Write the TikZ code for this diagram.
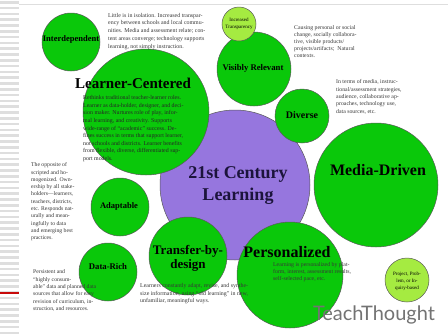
\documentclass[tikz,border=0pt]{standalone}
\usepackage{fontspec}
\setmainfont{Liberation Serif}
\newfontfamily\logofont{Lato}
\usetikzlibrary{positioning}

\definecolor{leafgreen}{RGB}{10,200,10}
\definecolor{limegreen}{RGB}{165,235,65}
\definecolor{hubpurple}{RGB}{150,118,222}
\definecolor{hubink}{RGB}{28,20,60}
\definecolor{notegray}{RGB}{55,55,55}
\definecolor{stripegray}{RGB}{222,222,222}
\definecolor{barred}{RGB}{200,10,10}

\begin{document}
\begin{tikzpicture}[x=1pt, y=-1pt,
    bubble/.style={circle, draw=black!65, line width=0.5pt, fill=leafgreen, inner sep=0pt},
    smallbubble/.style={bubble, fill=limegreen},
    hub/.style={bubble, fill=hubpurple},
    title/.style={align=center, inner sep=0pt},
    note/.style={align=left, anchor=north west, inner sep=0pt, text=notegray}]
    \useasboundingbox (0,0) rectangle (448,333);
    % left panel stripes
    \foreach \y in {1,6.8,...,333} {
        \fill[stripegray] (0,\y) rectangle (19,\y+2.6);
    }
    \draw[barred, line width=1.4pt] (0,293) -- (19,293);
    \draw[stripegray, line width=0.8pt] (19,4) -- (448,4);

    % bubbles
    \node[hub, minimum size=150pt] (hubc) at (235,185) {};
    \node[bubble, minimum size=58pt] (interdep) at (71,42) {};
    \node[bubble, minimum size=74pt] (visible) at (254,69) {};
    \node[smallbubble, minimum size=34pt] (transp) at (239,24) {};
    \node[bubble, minimum size=54pt] (diverse) at (302,116) {};
    \node[bubble, minimum size=126pt] (learner) at (146,112) {};
    \node[bubble, minimum size=124pt] (media) at (376,185) {};
    \node[bubble, minimum size=58pt] (adapt) at (120,207) {};
    \node[bubble, minimum size=58pt] (datarich) at (108,272) {};
    \node[bubble, minimum size=78pt] (transfer) at (188,256) {};
    \node[bubble, minimum size=106pt] (personal) at (290,275) {};
    \node[smallbubble, minimum size=44pt] (project) at (407,280) {};

    % titles
    \node[title, font=\bfseries\fontsize{8.5}{10}\selectfont] (interdeplbl) at (71,39) {Interdependent};
    \node[title, font=\bfseries\fontsize{15}{17}\selectfont] (learnerlbl) at (133,83) {Learner-Centered};
    \node[title, font=\bfseries\fontsize{8.7}{10}\selectfont] (visiblelbl) at (253,68) {Visibly Relevant};
    \node[title, font=\fontsize{5}{7}\selectfont] (transplbl) at (239,24) {Increased\\Transparency};
    \node[title, font=\bfseries\fontsize{10}{12}\selectfont] (diverselbl) at (302,115) {Diverse};
    \node[title, font=\bfseries\fontsize{18}{22}\selectfont, text=hubink] (hublbl) at (238,186) {21st Century\\Learning};
    \node[title, font=\bfseries\fontsize{16}{18}\selectfont] (medialbl) at (378,170) {Media-Driven};
    \node[title, font=\bfseries\fontsize{8.5}{10}\selectfont] (adaptlbl) at (119,206) {Adaptable};
    \node[title, font=\bfseries\fontsize{8.7}{10}\selectfont] (datarichlbl) at (108,267) {Data-Rich};
    \node[title, font=\bfseries\fontsize{13}{14}\selectfont] (transferlbl) at (188,258) {Transfer-by-\\design};
    \node[title, font=\bfseries\fontsize{16}{18}\selectfont] (personallbl) at (287,252) {Personalized};
    \node[title, font=\fontsize{5}{7}\selectfont] (projectlbl) at (407,281) {Project, Prob-\\lem, or In-\\quiry-based};

    % notes
    \node[note, font=\fontsize{5.9}{7.7}\selectfont] (topnote) at (108,13) {Little is in isolation. Increased transpar-\\ency between schools and local commu-\\nities. Media and assessment relate; con-\\tent areas converge; technology supports\\learning, not simply instruction.};
    \node[note, font=\fontsize{5.8}{7}\selectfont] (causenote) at (294,25.5) {Causing personal or social\\change, socially collabora-\\tive, visible products/\\projects/artifacts;\ \ Natural\\contexts.};
    \node[note, font=\fontsize{5.8}{7.4}\selectfont] (termsnote) at (336,79.5) {In terms of media, instruc-\\tional/assessment strategies,\\audience, collaborative ap-\\proaches, technology use,\\data sources, etc.};
    \node[note, text=black!85, font=\fontsize{5.9}{7.6}\selectfont] (learnernote) at (83,95.5) {Rethinks traditional teacher-learner roles.\\Learner as data-holder, designer, and deci-\\sion maker. Nurtures role of play, infor-\\mal learning, and creativity. Supports\\wide-range of ``academic'' success. De-\\fines success in terms that support learner,\\not schools and districts. Learner benefits\\from flexible, diverse, differentiated sup-\\port models.};
    \node[note, font=\fontsize{5.7}{7.3}\selectfont] (oppnote) at (31,162.5) {The opposite of\\scripted and ho-\\mogenized. Own-\\ership by all stake-\\holders---learners,\\teachers, districts,\\etc. Responds nat-\\urally and mean-\\ingfully to data\\and emerging best\\practices.};
    \node[note, font=\fontsize{5.7}{7.4}\selectfont] (persistnote) at (33,269.5) {Persistent and\\``highly consum-\\able'' data and planned data\\sources that allow for easy\\revision of curriculum, in-\\struction, and resources.};
    \node[note, font=\fontsize{5.9}{7.5}\selectfont] (transfernote) at (140,283.5) {Learners constantly adapt, revise, and synthe-\\size information, using ``old learning'' in new,\\unfamiliar, meaningful ways.};
    \node[note, font=\fontsize{5.8}{7}\selectfont] (personalnote) at (273,262.5) {Learning is personalized by plat-\\form, interest, assessment results,\\self-selected pace, etc.};

    % logo
    \node[inner sep=0pt, text=black!55, font=\logofont\fontsize{20}{22}\selectfont] (logo) at (374,315) {TeachThought};
\end{tikzpicture}
\end{document}
